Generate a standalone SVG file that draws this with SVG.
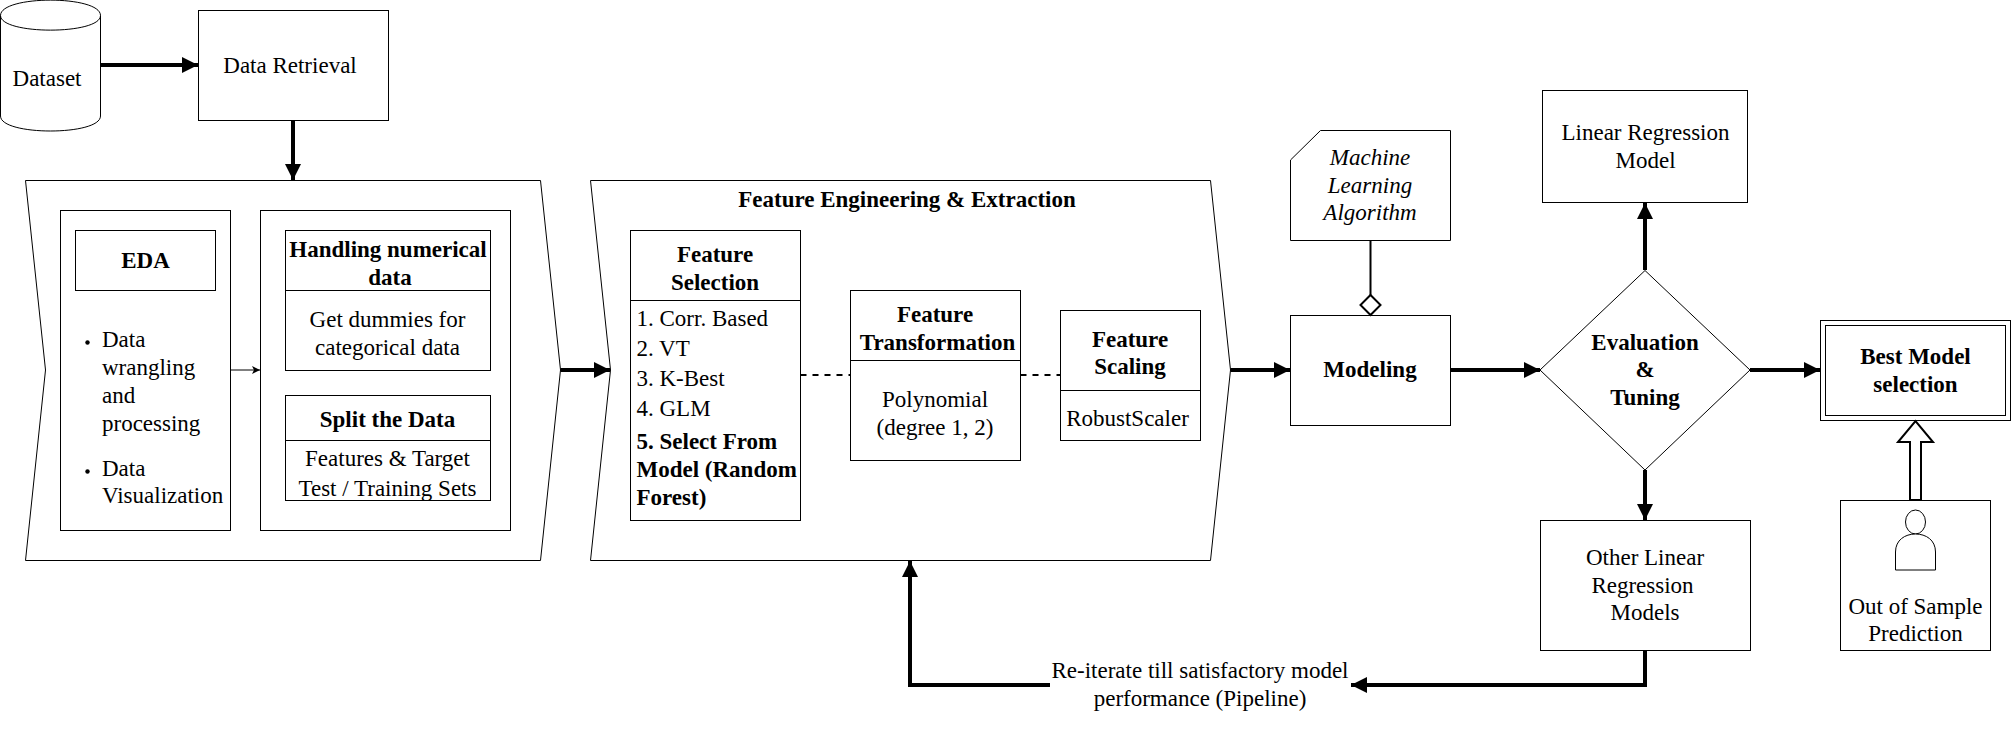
<svg xmlns="http://www.w3.org/2000/svg" width="2012" height="729" viewBox="0 0 2012 729">
<style>
text{font-family:"Liberation Serif","Times New Roman",serif;font-size:23px;fill:#000;text-anchor:middle}
.b{font-weight:bold}.i{font-style:italic}.l{text-anchor:start}
.s{fill:#fff;stroke:#000;stroke-width:1}
.n{fill:none;stroke:#000;stroke-width:1}
.c{fill:none;stroke:#000;stroke-width:4}
.d{fill:none;stroke:#000;stroke-width:2;stroke-dasharray:6 6}
</style>
<defs>
<marker id="a" markerUnits="userSpaceOnUse" markerWidth="18" markerHeight="18" refX="16" refY="8" orient="auto"><path d="M0 0L16 8L0 16Z" fill="#000"/></marker>
<marker id="t" markerUnits="userSpaceOnUse" markerWidth="10" markerHeight="10" refX="8" refY="4" orient="auto"><path d="M0 0L8 4L0 8L2 4Z" fill="#000"/></marker>
</defs>
<g id="dataset"><path class="s" d="M0.5 15.5C0.5 -5 100.5 -5 100.5 15.5V116C100.5 136 0.5 136 0.5 116Z"/><path class="n" d="M0.5 15.5C0.5 35 100.5 35 100.5 15.5"/><text x="47" y="85.5">Dataset</text></g>
<g id="retrieval"><rect class="s" x="198.5" y="10.5" width="190" height="110"/><text x="290" y="72.5">Data Retrieval</text></g>
<g id="preprocessing">
<path class="s" d="M25.5 180.5H540.5L560.5 370L540.5 560.5H25.5L45.5 370Z"/>
<rect class="s" x="60.5" y="210.5" width="170" height="320"/>
<rect class="s" x="75.5" y="230.5" width="140" height="60"/>
<text class="b" x="145.5" y="268">EDA</text>
<circle cx="87.5" cy="342.5" r="2.2"/><circle cx="87.5" cy="471.5" r="2.2"/>
<text class="l" x="102" y="346.5">Data</text><text class="l" x="102" y="374.5">wrangling</text><text class="l" x="102" y="402.5">and</text><text class="l" x="102" y="430.5">processing</text>
<text class="l" x="102" y="475.5">Data</text><text class="l" x="102" y="502.5">Visualization</text>
<rect class="s" x="260.5" y="210.5" width="250" height="320"/>
<rect class="s" x="285.5" y="230.5" width="205" height="140"/><path class="n" d="M285.5 290.5H490.5"/>
<text class="b" x="388" y="256.5">Handling numerical</text><text class="b" x="390" y="284.5">data</text>
<text x="387.5" y="326.5">Get dummies for</text><text x="387.5" y="354.5">categorical data</text>
<rect class="s" x="285.5" y="395.5" width="205" height="105"/><path class="n" d="M285.5 440.5H490.5"/>
<text class="b" x="387.5" y="427">Split the Data</text>
<text x="387.5" y="465.5">Features &amp; Target</text><text x="387.5" y="495.5">Test / Training Sets</text>
</g>
<g id="feature-engineering">
<path class="s" d="M590.5 180.5H1210.5L1230.5 370L1210.5 560.5H590.5L610.5 370Z"/>
<text class="b" x="907" y="207">Feature Engineering &amp; Extraction</text>
<rect class="s" x="630.5" y="230.5" width="170" height="290"/><path class="n" d="M630.5 300.5H800.5"/>
<text class="b" x="715" y="261.5">Feature</text><text class="b" x="715" y="290">Selection</text>
<text class="l" x="636.5" y="325.5">1. Corr. Based</text><text class="l" x="636.5" y="355.5">2. VT</text><text class="l" x="636.5" y="385.5">3. K-Best</text><text class="l" x="636.5" y="415.5">4. GLM</text>
<text class="l b" x="636.5" y="448.5">5. Select From</text><text class="l b" x="636.5" y="476.5">Model (Random</text><text class="l b" x="636.5" y="504.5">Forest)</text>
<rect class="s" x="850.5" y="290.5" width="170" height="170"/><path class="n" d="M850.5 360.5H1020.5"/>
<text class="b" x="935" y="321.5">Feature</text><text class="b" x="937.5" y="350">Transformation</text>
<text x="935" y="406.5">Polynomial</text><text x="935" y="434.5">(degree 1, 2)</text>
<rect class="s" x="1060.5" y="310.5" width="140" height="130"/><path class="n" d="M1060.5 390.5H1200.5"/>
<text class="b" x="1130" y="346.5">Feature</text><text class="b" x="1130" y="374">Scaling</text>
<text x="1127.5" y="426">RobustScaler</text>
</g>
<g id="algorithm"><path class="s" d="M1320.5 130.5H1450.5V240.5H1290.5V160Z"/><text class="i" x="1370" y="164.5">Machine</text><text class="i" x="1370" y="192.5">Learning</text><text class="i" x="1370" y="220">Algorithm</text></g>
<g id="modeling"><rect class="s" x="1290.5" y="315.5" width="160" height="110"/><text class="b" x="1370" y="377">Modeling</text></g>
<g id="evaluation"><path class="s" d="M1645 270.5L1750 370L1645 470L1540 370Z"/><text class="b" x="1645" y="349.5">Evaluation</text><text class="b" x="1645" y="377">&amp;</text><text class="b" x="1645" y="405">Tuning</text></g>
<g id="linear"><rect class="s" x="1542.5" y="90.5" width="205" height="112"/><text x="1645.5" y="140">Linear Regression</text><text x="1645.5" y="167.5">Model</text></g>
<g id="best"><rect class="s" x="1820.5" y="320.5" width="190" height="100"/><rect class="s" x="1825.5" y="325.5" width="180" height="90"/><text class="b" x="1915.5" y="363.5">Best Model</text><text class="b" x="1915.5" y="391.5">selection</text></g>
<g id="other"><rect class="s" x="1540.5" y="520.5" width="210" height="130"/><text x="1645" y="565">Other Linear</text><text x="1642.5" y="592.5">Regression</text><text x="1645" y="620">Models</text></g>
<g id="oos"><rect class="s" x="1840.5" y="500.5" width="150" height="150"/>
<ellipse class="s" cx="1915.5" cy="522" rx="10" ry="12"/><path class="s" d="M1895.5 570V552C1895.5 540 1905 534 1915.5 534C1926 534 1935.5 540 1935.5 552V570Z"/>
<text x="1915.5" y="614">Out of Sample</text><text x="1915.5" y="641">Prediction</text></g>
<g id="pipeline-label"><text x="1200" y="678">Re-iterate till satisfactory model</text><text x="1200" y="706">performance (Pipeline)</text></g>
<g id="connectors">
<path class="c" d="M100.5 65H198" marker-end="url(#a)"/>
<path class="c" d="M293 120.5V180" marker-end="url(#a)"/>
<path class="n" d="M230.5 370H260" marker-end="url(#t)"/>
<path class="c" d="M560.5 370H610" marker-end="url(#a)"/>
<path class="d" d="M800.5 375H850"/><path class="d" d="M1020.5 375H1060"/>
<path class="c" d="M1230.5 370H1290" marker-end="url(#a)"/>
<path fill="none" stroke="#000" stroke-width="2" d="M1370.5 240.5V295"/>
<path class="s" style="stroke-width:2" d="M1370.5 295L1380.5 305L1370.5 315L1360.5 305Z"/>
<path class="c" d="M1450.5 370H1540" marker-end="url(#a)"/>
<path class="c" d="M1645 270V203" marker-end="url(#a)"/>
<path class="c" d="M1750 370H1820" marker-end="url(#a)"/>
<path class="c" d="M1645 470V520" marker-end="url(#a)"/>
<path class="c" d="M1645 650.5V685H1351" marker-end="url(#a)"/>
<path class="c" d="M1050 685H910V561" marker-end="url(#a)"/>
<path fill="#fff" stroke="#000" stroke-width="2" d="M1910 500V442H1898L1915.5 421L1933 442H1921V500Z"/>
</g>
</svg>
